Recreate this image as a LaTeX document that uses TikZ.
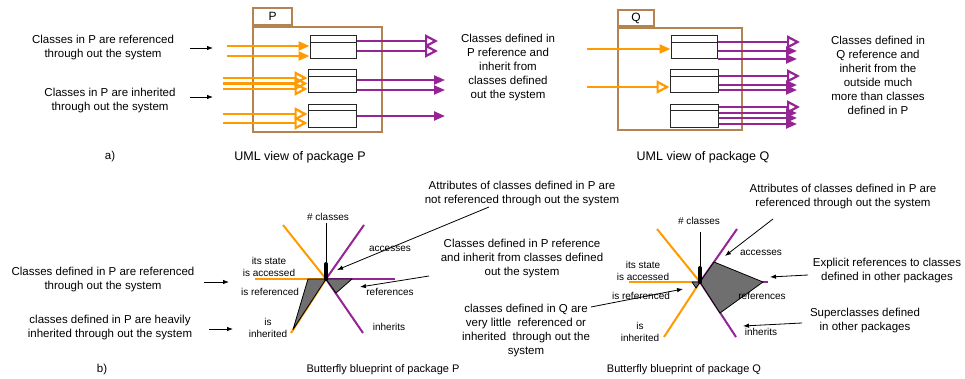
\documentclass[tikz,border=0pt]{standalone}
\usepackage{fontspec}
\setmainfont{Liberation Sans}
\usetikzlibrary{arrows.meta}
\definecolor{pkgbrown}{HTML}{B5834F}
\definecolor{uorange}{HTML}{FF9A00}
\definecolor{upurple}{HTML}{952494}
\definecolor{kivgray}{HTML}{6F6F6F}
\tikzset{
  txt/.style={align=center, inner sep=0pt, font=\fontsize{11.5}{14}\selectfont},
  capt/.style={inner sep=0pt, font=\fontsize{12.5}{15}\selectfont},
  lbl/.style={align=center, inner sep=0pt, font=\fontsize{10}{12}\selectfont},
  pkgbox/.style={draw=pkgbrown, line width=2pt, inner sep=0pt},
  clsbox/.style={draw=black!85, line width=1pt, fill=white, minimum height=23pt, inner sep=0pt},
  note/.style={-{Latex[length=6pt,width=4.5pt]}, line width=0.8pt},
  refin/.style={uorange, line width=2.2pt, -{Triangle[length=11pt,width=9pt]}},
  inhin/.style={uorange, line width=2.2pt, -{Triangle[open,length=13pt,width=13pt]}},
  refout/.style={upurple, line width=2.2pt, -{Triangle[length=11pt,width=9pt]}},
  inhout/.style={upurple, line width=2.2pt, -{Triangle[open,length=13pt,width=13pt]}},
  oaxis/.style={uorange, line width=2pt},
  paxis/.style={upurple, line width=2pt},
  kiv/.style={fill=kivgray, draw=black, line width=0.8pt, line join=round},
}
\begin{document}
\begin{tikzpicture}[x=1pt,y=-1pt]
    \useasboundingbox (0,0) rectangle (965,379);

    % a) UML views
    \node [txt] (inP1) at (103,48) {Classes in P are referenced\\through out the system};
    \node [txt] (inP2) at (110,101) {Classes in P are inherited\\through out the system};
    \draw [note] (190,48) -- (213,48);
    \draw [note] (190,97) -- (213,97);

    \node [pkgbox, minimum width=129pt, minimum height=105pt] (pkgP) at (317.5,79.5) {};
    \node [pkgbox, minimum width=39pt, minimum height=17pt, anchor=south west,
           font=\fontsize{12}{14}\selectfont] (tabP) at (pkgP.north west) {P};
    \node [clsbox, minimum width=46pt] (p1) at (333,47.5) {};
    \node [clsbox, minimum width=48pt] (p2) at (332,81.5) {};
    \node [clsbox, minimum width=48pt] (p3) at (332,116) {};
    \foreach \c in {p1,p2,p3}
        \draw [black!85, line width=1pt] ([yshift=-7pt]\c.north west) -- ([yshift=-7pt]\c.north east);
    \foreach \y in {46,56} \draw [refin] (227,\y) -- (p1.west |- 0,\y);
    \foreach \y in {78,83.5,89} \draw [inhin] (223,\y) -- (p2.west |- 0,\y);
    \foreach \y in {114,123} \draw [inhin] (223,\y) -- (p3.west |- 0,\y);
    \foreach \y in {41,51} \draw [inhout] (p1.east |- 0,\y) -- (438,\y);
    \foreach \y in {80,90} \draw [refout] (p2.east |- 0,\y) -- (445,\y);
    \draw [refout] (p3.east |- 0,116) -- (445,116);
    \node [txt] (outP) at (508,68) {Classes defined in\\P reference and\\inherit from\\classes defined\\out the system};

    \node [pkgbox, minimum width=124pt, minimum height=102pt] (pkgQ) at (680,79) {};
    \node [pkgbox, minimum width=36pt, minimum height=16pt, anchor=south west,
           font=\fontsize{12}{14}\selectfont] (tabQ) at (pkgQ.north west) {Q};
    \node [clsbox, minimum width=46pt] (q1) at (694,47.5) {};
    \node [clsbox, minimum width=48pt] (q2) at (694,81.5) {};
    \node [clsbox, minimum width=48pt] (q3) at (694,116) {};
    \foreach \c in {q1,q2,q3}
        \draw [black!85, line width=1pt] ([yshift=-7pt]\c.north west) -- ([yshift=-7pt]\c.north east);
    \draw [refin] (587,49) -- (q1.west |- 0,49);
    \draw [inhin] (587,87) -- (q2.west |- 0,87);
    \draw [inhout] (q1.east |- 0,42) -- (800,42);
    \foreach \y in {51,59} \draw [refout] (q1.east |- 0,\y) -- (797,\y);
    \draw [inhout] (q2.east |- 0,76) -- (800,76);
    \foreach \y in {85,90} \draw [refout] (q2.east |- 0,\y) -- (797,\y);
    \draw [inhout] (q3.east |- 0,107) -- (800,107);
    \foreach \y in {113,118,124} \draw [refout] (q3.east |- 0,\y) -- (797,\y);
    \node [txt] (outQ) at (878,75) {Classes defined in\\Q reference and\\inherit from the\\outside much\\more than classes\\defined in P};

    \node [txt] (la) at (110,157) {a)};
    \node [capt] (umlP) at (300,157) {UML view of package P};
    \node [capt] (umlQ) at (703,157) {UML view of package Q};

    % b) butterflies
    \coordinate (kP) at (326,279);
    \draw [oaxis] (kP) -- (255,279);
    \draw [oaxis] (kP) -- (283,225);
    \draw [oaxis] (kP) -- (291,333);
    \draw [paxis] (kP) -- (364,225);
    \draw [paxis] (kP) -- (395,279);
    \draw [paxis] (kP) -- (363,333);
    \draw [kiv] (kP) -- (308,279) -- (293,329.5) -- cycle;
    \draw [kiv] (kP) -- (352,279) -- (336,293) -- cycle;
    \draw [line width=0.8pt] (kP) -- (326,223);
    \draw [line width=4pt, line cap=round] (326,264) -- (kP);
    \node [lbl] (ncP) at (328,217) {\# classes};
    \node [lbl] (acP) at (390,249) {accesses};
    \node [lbl] (saP) at (269,267) {its state\\is accessed};
    \node [lbl] (irP) at (270,292) {is referenced};
    \node [lbl] (reP) at (390,292) {references};
    \node [lbl] (iiP) at (268,328) {is\\inherited};
    \node [lbl] (inP) at (389,327) {inherits};

    \coordinate (kQ) at (700,282);
    \draw [oaxis] (kQ) -- (629,282);
    \draw [oaxis] (kQ) -- (657,229);
    \draw [oaxis] (kQ) -- (664,337);
    \draw [paxis] (kQ) -- (737,229);
    \draw [paxis] (kQ) -- (768,282);
    \draw [paxis] (kQ) -- (736,337);
    \draw [kiv] (kQ) -- (714,262) -- (763,282) -- (720,313) -- cycle;
    \draw [kiv] (kQ) -- (692,282) -- (696,288) -- cycle;
    \draw [line width=0.8pt] (kQ) -- (700,232);
    \draw [line width=4pt, line cap=round] (700,268) -- (kQ);
    \node [lbl] (ncQ) at (699,221) {\# classes};
    \node [lbl] (acQ) at (761,253) {accesses};
    \node [lbl] (saQ) at (643,271) {its state\\is accessed};
    \node [lbl] (irQ) at (641,296) {is referenced};
    \node [lbl] (reQ) at (762,296) {references};
    \node [lbl] (iiQ) at (640,332) {is\\inherited};
    \node [lbl] (inQ) at (761,332) {inherits};

    \node [txt] (refB) at (103,279.5) {Classes defined in P are referenced\\through out the system};
    \node [txt] (inhB) at (110,328) {classes defined in P are heavily\\inherited through out the system};
    \draw [note] (204,282) -- (229,282);
    \draw [note] (209,329) -- (233,329);

    \node [txt] (attP) at (522,194) {Attributes of classes defined in P are\\not referenced through out the system};
    \draw [note] (489,207) -- (337,270);
    \node [txt] (refP) at (522,259) {Classes defined in P reference\\and inherit from classes defined\\out the system};
    \draw [note] (429,276) -- (360,287);
    \node [txt] (litQ) at (526,331) {classes defined in Q are\\very little~ referenced or\\inherited~ through out the\\system};
    \draw [note] (591,307) -- (683,289);

    \node [txt] (attQ) at (843,197) {Attributes of classes defined in P are\\referenced through out the system};
    \draw [note] (773,219) -- (725,256);
    \node [txt] (expQ) at (887,271) {Explicit references to classes\\defined in other packages};
    \draw [note] (808,275) -- (770,277);
    \node [txt] (supQ) at (865,321) {Superclasses defined\\in other packages};
    \draw [note] (802,323) -- (743,326);

    \node [txt] (lb) at (102,370) {b)};
    \node [txt, font=\fontsize{11}{13}\selectfont] (bfP) at (383,370) {Butterfly blueprint of package P};
    \node [txt, font=\fontsize{11}{13}\selectfont] (bfQ) at (684,370) {Butterfly blueprint of package Q};
\end{tikzpicture}
\end{document}
